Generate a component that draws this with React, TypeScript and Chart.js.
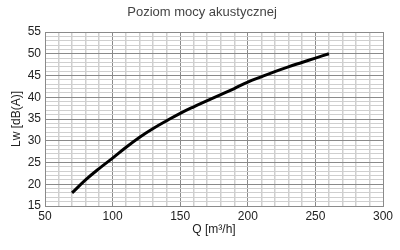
import React, { useEffect, useRef } from "react";
import { Chart, registerables } from "chart.js";

Chart.register(...registerables);

// Airflow Q [m³/h] and sound power level Lw [dB(A)]
const flow = [70, 80, 90, 100, 110, 120, 130, 140, 150, 160, 170, 180, 190, 200, 210, 220, 230, 240, 250, 260];
const soundPower = [18, 21, 23.6, 26, 28.5, 30.8, 32.8, 34.6, 36.3, 37.8, 39.2, 40.6, 42, 43.5, 44.7, 45.9, 47, 48, 49, 50];

const xMin = 50;
const xMax = 300;
const yMin = 15;
const yMax = 55;

const chartTitle = "Poziom mocy akustycznej";

const FONT = "'Liberation Sans', Arial, sans-serif";

// Heading drawn slightly left of the plot centre, above the grid
const headingPlugin = {
  id: "heading",
  afterDraw(chart: any) {
    const { ctx, chartArea } = chart;
    ctx.save();
    ctx.font = `13px ${FONT}`;
    ctx.fillStyle = "#444";
    ctx.textAlign = "center";
    ctx.textBaseline = "middle";
    ctx.fillText(chartTitle, (chartArea.left + chartArea.right) / 2 - 12, 12);
    ctx.restore();
  },
};

export default function App() {
  const canvasRef = useRef<HTMLCanvasElement | null>(null);

  useEffect(() => {
    if (!canvasRef.current) return;
    const points = flow.map((q, i) => ({ x: q, y: soundPower[i] }));
    const chart = new Chart(canvasRef.current, {
      type: "line",
      data: {
        datasets: [
          {
            data: points,
            borderColor: "#000",
            borderWidth: 3,
            pointRadius: 0,
            tension: 0.4,
            fill: false,
          },
        ],
      },
      plugins: [headingPlugin],
      options: {
        responsive: false,
        animation: false,
        layout: { padding: { left: 0, right: 17, top: 32, bottom: 13 } },
        plugins: {
          legend: { display: false },
          tooltip: { enabled: false },
          title: { display: false },
        },
        scales: {
          x: {
            type: "linear",
            min: xMin,
            max: xMax,
            afterFit: (s: any) => {
              s.height = 31;
            },
            ticks: {
              stepSize: 10,
              autoSkip: false,
              maxRotation: 0,
              padding: 3,
              color: "#222",
              font: { family: FONT, size: 12 },
              callback: (v: any) => (Number(v) % 50 === 0 ? String(v) : ""),
            },
            grid: {
              drawTicks: false,
              color: (c: any) => (c.tick && c.tick.value % 50 === 0 ? "#8a8a8a" : "#cfcfcf"),
              lineWidth: (c: any) => (c.tick && c.tick.value % 50 === 0 ? 1 : 1.5),
            },
            border: { color: "#8a8a8a" },
            title: {
              display: true,
              text: "Q [m³/h]",
              color: "#222",
              font: { family: FONT, size: 12 },
              padding: { top: 0, bottom: 0 },
            },
          },
          y: {
            type: "linear",
            min: yMin,
            max: yMax,
            afterFit: (s: any) => {
              s.width = 45;
            },
            ticks: {
              stepSize: 1,
              autoSkip: false,
              padding: 4,
              color: "#222",
              font: { family: FONT, size: 12 },
              callback: (v: any) => (Number(v) % 5 === 0 ? String(v) : ""),
            },
            grid: {
              drawTicks: false,
              color: (c: any) => (c.tick && c.tick.value % 5 === 0 ? "#8a8a8a" : "#cfcfcf"),
              lineWidth: 1,
            },
            border: { color: "#8a8a8a" },
            title: {
              display: true,
              text: "Lw [dB(A)]",
              color: "#222",
              font: { family: FONT, size: 12 },
              padding: { top: 9, bottom: 0 },
            },
          },
        },
      },
    });
    return () => chart.destroy();
  }, []);

  return (
    <div style={{ position: "fixed", left: 0, top: 0, width: 400, height: 250, background: "#fff" }}>
      <canvas ref={canvasRef} width={400} height={250} style={{ display: "block" }} />
    </div>
  );
}
